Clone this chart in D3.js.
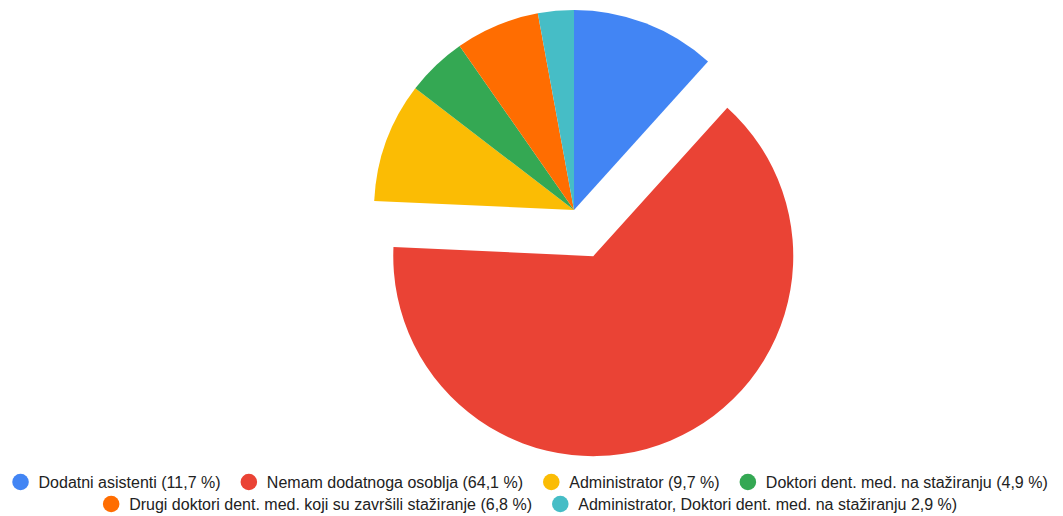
<!DOCTYPE html>
<html>
<head>
<meta charset="utf-8">
<script src="https://cdn.jsdelivr.net/npm/d3@7"></script>
<style>
  body { margin: 0; background: #fff; }
  svg { display: block; }
</style>
</head>
<body>
<svg width="1063" height="516"></svg>
<script>
// data
const labels = [
  "Dodatni asistenti (11,7 %)",
  "Nemam dodatnoga osoblja (64,1 %)",
  "Administrator (9,7 %)",
  "Doktori dent. med. na stažiranju (4,9 %)",
  "Drugi doktori dent. med. koji su završili stažiranje (6,8 %)",
  "Administrator, Doktori dent. med. na stažiranju 2,9 %)"
];
const values = [11.7, 64.1, 9.7, 4.9, 6.8, 2.9];
const colors = ["#4285f4", "#ea4335", "#fbbc04", "#34a853", "#ff6d01", "#46bdc6"];
const exploded = [false, true, false, false, false, false];

const svg = d3.select("svg");
const cx = 574, cy = 210, radius = 200, explodeBy = 50;

const pie = d3.pie().sort(null).value(d => d)(values);
const arc = d3.arc().innerRadius(0).outerRadius(radius);

const g = svg.append("g").attr("transform", `translate(${cx},${cy})`);

g.selectAll("path")
  .data(pie)
  .enter()
  .append("path")
  .attr("d", arc)
  .attr("fill", (d, i) => colors[i])
  .attr("transform", (d, i) => {
    if (!exploded[i]) return null;
    const a = (d.startAngle + d.endAngle) / 2;
    return `translate(${Math.sin(a) * explodeBy},${-Math.cos(a) * explodeBy})`;
  });

// legend
const fontSize = 16, dotR = 8.3, dotGap = 18, itemGap = 20, maxWidth = 1055;
const rowY = [482, 504];

const legend = svg.append("g").attr("class", "legend");
const items = labels.map((lab, i) => {
  const it = legend.append("g");
  it.append("circle").attr("r", dotR).attr("fill", colors[i]);
  const t = it.append("text")
    .attr("x", dotGap)
    .attr("dy", "0.35em")
    .attr("font-family", "Arial, 'Liberation Sans', sans-serif")
    .attr("font-size", fontSize)
    .attr("fill", "#222")
    .text(lab);
  const w = dotR + dotGap + t.node().getComputedTextLength();
  return { it, w };
});

// wrap into rows
const rows = [[]];
let cur = 0;
items.forEach(item => {
  const add = (rows[rows.length - 1].length ? itemGap : 0) + item.w;
  if (cur + add > maxWidth && rows[rows.length - 1].length) {
    rows.push([item]);
    cur = item.w;
  } else {
    rows[rows.length - 1].push(item);
    cur += add;
  }
});

rows.forEach((row, r) => {
  const total = d3.sum(row, d => d.w) + itemGap * (row.length - 1);
  let x = (1060 - total) / 2 + dotR;
  row.forEach(item => {
    item.it.attr("transform", `translate(${x},${rowY[r]})`);
    x += item.w + itemGap;
  });
});
</script>
</body>
</html>
